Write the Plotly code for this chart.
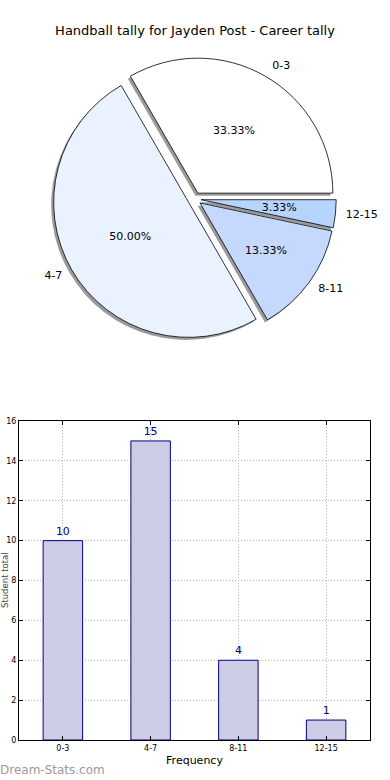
import plotly.graph_objects as go

categories = ["0-3", "4-7", "8-11", "12-15"]
counts = [10, 15, 4, 1]
pie_colors = ["#ffffff", "#ebf2ff", "#c5d9ff", "#b5d5ff"]
y_ticks = [0, 2, 4, 6, 8, 10, 12, 14, 16]

FONT = "DejaVu Sans"
W, H = 390, 780
ML, MR, MT, MB = 19, 20, 0, 40
PW = W - ML - MR
PH = H - MT - MB

pull = [0.05] * len(categories)
PIE_CX, PIE_CY, PIE_BOX = 194.5, 199.0, 283.5   # pixel centre / box height of the pie


def pie_domain(scale, ox=0.0, oy=0.0):
    half = PIE_BOX * scale / 2
    cx, cy = PIE_CX + ox, PIE_CY + oy
    x0 = (cx - ML - 168) / PW
    x1 = (cx - ML + 168) / PW
    y0 = (PH - (cy + half)) / PH
    y1 = (PH - (cy - half)) / PH
    return dict(x=[x0, x1], y=[y0, y1])


ROT = -30  # first slice starts at 3 o'clock, counterclockwise
pct = "%{percent:.2%}"
common = dict(labels=categories, values=counts, sort=False,
              direction="counterclockwise", rotation=ROT, pull=pull,
              automargin=False, showlegend=False)
clear = dict(colors=["rgba(0,0,0,0)"] * 4, line=dict(width=0))
pct_font = dict(family=FONT, size=11, color="black")

fig = go.Figure()

# shadow
fig.add_trace(go.Pie(
    **common, textinfo="none", hoverinfo="skip",
    marker=dict(colors=["rgba(120,120,120,0.75)"] * 4, line=dict(width=0)),
    domain=pie_domain(1.0, -2.5, 2.5),
))
# main pie with percentages of the larger slices
fig.add_trace(go.Pie(
    **common, texttemplate=[pct, pct, "", ""], textposition="inside",
    insidetextorientation="horizontal", textfont=pct_font,
    marker=dict(colors=pie_colors, line=dict(color="black", width=0.8)),
    domain=pie_domain(1.0),
))
# percentages of the narrower slices, placed nearer the centre
fig.add_trace(go.Pie(
    **common, texttemplate=["", "", pct, ""], textposition="inside",
    insidetextorientation="horizontal", hoverinfo="skip", textfont=pct_font,
    marker=clear, domain=pie_domain(0.86),
))
fig.add_trace(go.Pie(
    **common, texttemplate=["", "", "", pct], textposition="inside",
    insidetextorientation="horizontal", hoverinfo="skip", textfont=pct_font,
    marker=clear, domain=pie_domain(0.66),
))
# category labels
fig.add_trace(go.Pie(
    **common, texttemplate="%{label}", textposition="outside", hoverinfo="skip",
    textfont=dict(family=FONT, size=11, color="black"),
    marker=clear, domain=pie_domain(1.05),
))

fig.add_trace(go.Bar(
    x=categories, y=counts, width=0.45, text=[str(c) for c in counts],
    textposition="outside", cliponaxis=False,
    textfont=dict(family=FONT, size=10, color="#000080"),
    marker=dict(color="#ccccE5", line=dict(color="#000080", width=1)),
    showlegend=False,
))

axis_common = dict(
    showline=True, linecolor="black", linewidth=1, mirror="allticks",
    ticks="inside", ticklen=4, tickcolor="black", automargin=False,
    showgrid=True, gridcolor="#b8b8b8", griddash="1px,2px", gridwidth=1,
    tickfont=dict(family=FONT, size=8, color="black"), zeroline=False,
)

fig.update_layout(
    width=W, height=H, autosize=False,
    margin=dict(l=ML, r=MR, t=MT, b=MB, autoexpand=False),
    paper_bgcolor="white", plot_bgcolor="white",
    font=dict(family=FONT, color="black"),
    title=dict(text="Handball tally for Jayden Post - Career tally",
               x=0.5, xref="container", y=1 - 30 / H, yref="container",
               yanchor="middle", xanchor="center", automargin=False,
               font=dict(family=FONT, size=13, color="black")),
    uniformtext=dict(minsize=11, mode="show"),
    xaxis=dict(domain=[0, 1], range=[-0.5, 3.5], type="category",
               title=dict(text="Frequency", font=dict(family=FONT, size=11), standoff=4),
               **axis_common),
    yaxis=dict(domain=[0, (PH - 421) / PH], range=[0, 16], tickvals=y_ticks,
               **axis_common),
    bargap=0.55,
)

fig.add_annotation(text="Student total", textangle=-90, xref="paper", yref="paper",
                   x=(4.5 - ML) / PW, y=((PH - 421) / PH) / 2, xanchor="center",
                   yanchor="middle", showarrow=False,
                   font=dict(family=FONT, size=8.5, color="#444"))
fig.add_annotation(text="Dream-Stats.com", xref="paper", yref="paper",
                   x=-ML / PW, y=(PH - 770) / PH, xanchor="left", yanchor="middle",
                   xshift=-2, showarrow=False,
                   font=dict(family=FONT, size=12, color="#9a9a9a"))

fig.write_html("out.html", config={"responsive": False, "displayModeBar": False},
               post_script="document.body.style.margin='0';")
